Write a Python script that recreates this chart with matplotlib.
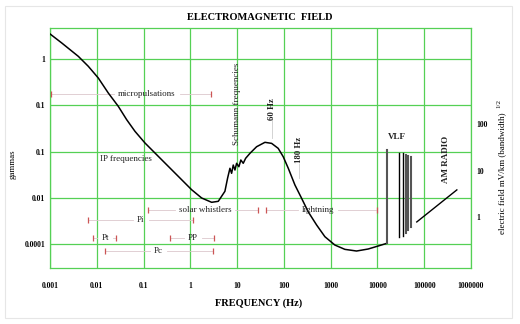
import matplotlib
matplotlib.use("Agg")
import matplotlib.pyplot as plt
from matplotlib.patches import Rectangle

plt.rcParams["font.family"] = ["Liberation Serif", "DejaVu Serif"]

# natural background field spectrum (Hz, gammas)
freq = [0.001, 0.00178, 0.00403, 0.00658, 0.01076, 0.0176, 0.0288, 0.0435,
        0.0655, 0.107, 0.175, 0.287, 0.551, 1.067, 1.743, 2.85, 3.95, 5.48,
        6.26, 7.02, 7.62, 8.26, 8.98, 9.75, 10.9, 12.0, 13.5, 15.2, 18.8,
        26.1, 39.3, 54.6, 75.5, 96.6, 124, 172, 239, 330, 500, 752, 1230,
        2010, 3570, 6320, 10340, 16100]
gammas = [3.48, 2.22, 1.14, 0.695, 0.388, 0.184, 0.0948, 0.0488, 0.0273,
          0.0153, 0.00929, 0.00563, 0.00291, 0.00149, 0.000989, 0.000798,
          0.000838, 0.00138, 0.00267, 0.00434, 0.00338, 0.0051, 0.00398,
          0.00556, 0.00469, 0.00655, 0.00556, 0.00713, 0.00914, 0.0127,
          0.0158, 0.0150, 0.0117, 0.00773, 0.00434, 0.00189, 0.000973,
          0.000499, 0.000258, 0.000144, 9.5e-5, 7.67e-5, 7.06e-5, 7.8e-5,
          9.06e-5, 1.04e-4]

# VLF transmitter lines
vlf_freq = [16100, 28600, 34900, 40500, 44700, 51800]
vlf_low = [1.04e-4, 1.41e-4, 1.48e-4, 1.74e-4, 2.0e-4, 2.34e-4]
vlf_high = [1.076e-2, 9.3e-3, 9.3e-3, 8.3e-3, 7.9e-3, 7.6e-3]
vlf_color = ["#555555", "black", "black", "#555555", "#555555", "#555555"]

# AM radio band
am_freq = [69200, 498000]
am_gammas = [3.0e-4, 1.48e-3]

# frequency ranges of the named phenomena
range_names = ["micropulsations", "solar whistlers", "lightning", "Pi", "Pt", "PP", "Pc"]
range_lo = [0.00105, 0.124, 41, 0.0065, 0.0083, 0.37, 0.015]
range_hi = [2.75, 27.6, 9800, 1.14, 0.0257, 3.19, 3.04]
range_label_f = [0.118, 2.05, 532, 0.088, 0.015, 1.14, 0.209]
range_level = [0.175, 5.4e-4, 5.4e-4, 3.3e-4, 1.35e-4, 1.35e-4, 7.0e-5]

xticks = [1e-3, 1e-2, 1e-1, 1, 10, 100, 1e3, 1e4, 1e5, 1e6]
xlabels = ["0.001", "0.01", "0.1", "1", "10", "100", "1000", "10000", "100000", "1000000"]
yticks = [1e-4, 1e-3, 1e-2, 1e-1, 1]
ylabels = ["0.0001", "0.01", "0.1", "0.1", "1"]
rticks = [1, 10, 100]
rlabels = ["1", "10", "100"]

GREEN = "#55d055"
fig = plt.figure(figsize=(5.2, 3.24), dpi=100)
fig.patches.append(Rectangle((0.01, 0.02), 0.975, 0.962, transform=fig.transFigure,
                             fill=False, ec="#e6e6e6", lw=0.8))
ax = fig.add_axes([0.0962, 0.1728, 0.8096, 0.7408])
ax.set_xscale("log"); ax.set_yscale("log")
ax.set_xlim(1e-3, 1e6); ax.set_ylim(3.03e-5, 4.68)
ax.set_xticks(xticks); ax.set_xticklabels(xlabels)
ax.set_yticks(yticks); ax.set_yticklabels(ylabels)
ax.minorticks_off()
ax.tick_params(length=0, labelsize=5.5, pad=3.5)
ax.tick_params(axis="x", pad=10)
for lab in ax.get_xticklabels() + ax.get_yticklabels():
    lab.set_fontweight("bold")
ax.grid(True, color=GREEN, lw=0.9)
for s in ax.spines.values():
    s.set_color(GREEN); s.set_linewidth(0.9)

ax.plot(freq, gammas, color="black", lw=1.1, zorder=3, solid_joinstyle="round")
for f, lo, hi, c in zip(vlf_freq, vlf_low, vlf_high, vlf_color):
    ax.plot([f, f], [lo, hi], color=c, lw=1.5 if c != "black" else 1.0, zorder=3)
ax.plot(am_freq, am_gammas, color="black", lw=1.0, zorder=3)

# ranges: red end marks, faint line, label inside
labels = []
for name, lo, hi, mid, lv in zip(range_names, range_lo, range_hi, range_label_f, range_level):
    t = ax.text(mid, lv, name, ha="center", va="center", fontsize=6.5,
                color="#222222", zorder=4)
    labels.append(t)
    ax.plot([lo, hi], [lv, lv], ls="none", marker="|", ms=4, mew=0.9,
            color="#cc5555", zorder=4)
fig.canvas.draw()
inv = ax.transData.inverted()
for t, lo, hi, lv in zip(labels, range_lo, range_hi, range_level):
    bb = t.get_window_extent()
    xl = inv.transform((bb.x0 - 4, bb.y0))[0]
    xr = inv.transform((bb.x1 + 4, bb.y0))[0]
    if xl > lo:
        ax.plot([lo, xl], [lv, lv], color="#dcc8cc", lw=0.6, zorder=2)
    if xr < hi:
        ax.plot([xr, hi], [lv, lv], color="#dcc8cc", lw=0.6, zorder=2)

ax.text(0.042, 0.0069, "IP frequencies", ha="center", va="center", fontsize=6.5, color="#222222")
ax.text(10, 0.105, "Schumann frequencies", rotation=90, ha="center", va="center",
        fontsize=6.5, color="#222222")
ax.text(55, 0.083, "60 Hz", rotation=90, ha="center", va="center", fontsize=6.3,
        fontweight="bold", color="#222222")
ax.plot([55, 55], [0.048, 0.020], color="#cccccc", lw=0.6)
ax.text(209, 0.0107, "180 Hz", rotation=90, ha="center", va="center", fontsize=6.3,
        fontweight="bold", color="#222222")
ax.plot([209, 209], [0.0053, 0.0027], color="#cccccc", lw=0.6)
ax.text(25900, 0.0204, "VLF", ha="center", va="center", fontsize=6.5,
        fontweight="bold", color="#222222")
ax.text(290000, 0.0066, "AM RADIO", rotation=90, ha="center", va="center",
        fontsize=6.5, fontweight="bold", color="#222222")

rax = ax.twinx()
rax.set_yscale("log")
rax.set_ylim(0.0789, 1.22e4)
rax.set_yticks(rticks); rax.set_yticklabels(rlabels)
rax.minorticks_off()
rax.tick_params(length=0, labelsize=5.5, pad=4)
for lab in rax.get_yticklabels():
    lab.set_fontweight("bold")
for s in rax.spines.values():
    s.set_visible(False)

fig.text(0.5, 1 - 17 / 324, "ELECTROMAGNETIC  FIELD", ha="center", va="center",
         fontsize=7.5, fontweight="bold")
fig.text(0.498, 1 - 303 / 324, "FREQUENCY (Hz)", ha="center", va="center",
         fontsize=7.5, fontweight="bold")
fig.text(13 / 520, 1 - 164 / 324, "gammas", rotation=90, ha="center", va="center",
         fontsize=6.5)
fig.text(502 / 520, 1 - 173 / 324, "electric field mV/km (bandwidth)", rotation=90,
         ha="center", va="center", fontsize=6.5)
fig.text(499 / 520, 1 - 103 / 324, "1/2", rotation=90, ha="center", va="center",
         fontsize=5)

fig.savefig("out.png", dpi=100)
